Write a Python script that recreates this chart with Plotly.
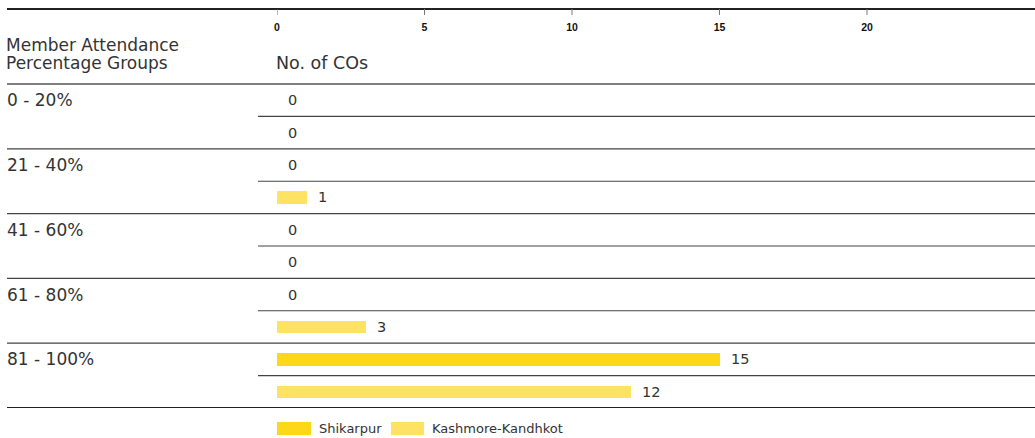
import plotly.graph_objects as go

groups = ["0 - 20%", "21 - 40%", "41 - 60%", "61 - 80%", "81 - 100%"]
series_names = ["Shikarpur", "Kashmore-Kandhkot"]
shikarpur = [0, 0, 0, 0, 15]
kashmore = [0, 1, 0, 3, 12]
tick_vals = [0, 5, 10, 15, 20]
colors = ["#FDD819", "#FEE263"]

W, H = 1035, 438
L, R, T, B = 277, 0, 9, 30
XMAX = (W - L) / 29.5
ROW = 32.4
HEADER_ROWS = (84 - T) / ROW
Y_RANGE = [9.5, -0.5 - HEADER_ROWS]
PW = W - L - R
PH = H - T - B

def px_to_paper_x(px):
    return (px - L) / PW

def py_to_paper_y(py):
    return (H - B - py) / PH

FAM = "DejaVu Sans, Liberation Sans, Arial, sans-serif"
text_font = dict(family=FAM, color="#333333")

fig = go.Figure()
series = [shikarpur, kashmore]
for s, (name, vals) in enumerate(zip(series_names, series)):
    ys = [2 * g + s for g in range(len(groups))]
    fig.add_trace(go.Bar(
        x=vals, y=ys, orientation="h", name=name,
        marker=dict(color=colors[s], line=dict(width=0)),
        width=0.38, showlegend=False, hoverinfo="x+name",
    ))
    for v, yy in zip(vals, ys):
        fig.add_annotation(
            x=v, y=yy, xref="x", yref="y", text=str(v), showarrow=False,
            xanchor="left", yanchor="middle", xshift=9,
            font=dict(size=14.5, **text_font),
        )

shapes = []
x_left = px_to_paper_x(7)
x_sub = px_to_paper_x(258)
shapes.append(dict(type="line", xref="paper", yref="paper", x0=x_left, x1=1, y0=1, y1=1,
                   line=dict(color="#222222", width=2)))
shapes.append(dict(type="line", xref="paper", yref="y", x0=x_left, x1=1, y0=9.5, y1=9.5,
                   line=dict(color="#222222", width=2)))
for g in range(len(groups)):
    yline = 2 * g - 0.5
    shapes.append(dict(type="line", xref="paper", yref="y", x0=x_left, x1=1, y0=yline, y1=yline,
                       line=dict(color="#555555" if g == 0 else "#444444", width=1.5 if g == 0 else 1.2)))
    shapes.append(dict(type="line", xref="paper", yref="y", x0=x_sub, x1=1, y0=2 * g + 0.5, y1=2 * g + 0.5,
                       line=dict(color="#444444", width=1.1)))

# tick marks on the x scale
for v in tick_vals:
    shapes.append(dict(type="line", xref="x", yref="paper", x0=v, x1=v,
                       y0=py_to_paper_y(9), y1=py_to_paper_y(15),
                       line=dict(color="#777777", width=1)))

leg_y0 = py_to_paper_y(422)
leg_y1 = py_to_paper_y(435)
leg_items = [(277, 311, 317), (391, 424, 430)]
for (sx0, sx1, tx), col, name in zip(leg_items, colors, series_names):
    shapes.append(dict(type="rect", xref="paper", yref="paper",
                       x0=px_to_paper_x(sx0), x1=px_to_paper_x(sx1), y0=leg_y0, y1=leg_y1,
                       fillcolor=col, line=dict(width=0)))
    fig.add_annotation(x=px_to_paper_x(tx), y=py_to_paper_y(428.5), xref="paper", yref="paper",
                       text=name, showarrow=False, xanchor="left", yanchor="middle",
                       font=dict(size=13, **text_font))

for g, name in enumerate(groups):
    fig.add_annotation(x=px_to_paper_x(5), y=2 * g, xref="paper", yref="y", text=name,
                       showarrow=False, xanchor="left", yanchor="middle",
                       font=dict(size=17, **text_font))

for line_text, ypx in [("Member Attendance", 44.5), ("Percentage Groups", 63)]:
    fig.add_annotation(x=px_to_paper_x(4), y=py_to_paper_y(ypx), xref="paper", yref="paper",
                       text=line_text, showarrow=False,
                       xanchor="left", yanchor="middle", align="left",
                       font=dict(size=17, **text_font))
fig.add_annotation(x=px_to_paper_x(274), y=py_to_paper_y(62.5), xref="paper", yref="paper",
                   text="No. of COs", showarrow=False, xanchor="left", yanchor="middle",
                   font=dict(size=17.5, **text_font))

fig.update_layout(
    width=W, height=H, margin=dict(l=L, r=R, t=T, b=B, pad=0),
    paper_bgcolor="white", plot_bgcolor="white",
    shapes=shapes, bargap=0, barmode="overlay",
    xaxis=dict(range=[0, XMAX], side="top", tickvals=tick_vals,
               ticks="", ticklabelposition="inside", ticklabeloverflow="allow",
               ticklabelstandoff=12,
               showgrid=False, zeroline=False, showline=False,
               tickfont=dict(family="Liberation Sans, Arial, sans-serif", size=10.5, color="#111111",
                             weight="bold"),
               fixedrange=True),
    yaxis=dict(range=Y_RANGE, showticklabels=False, showgrid=False, zeroline=False,
               showline=False, ticks="", fixedrange=True),
)

fig.write_html("out.html")
